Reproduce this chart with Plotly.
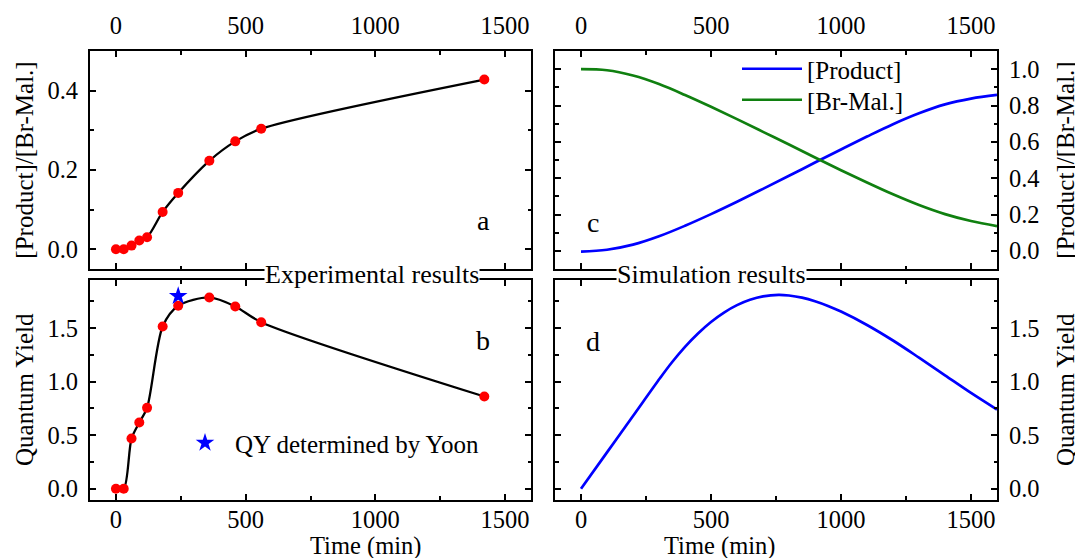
import plotly.graph_objects as go

# ---------------- data ----------------
# Experimental results (panels a and b)
exp_time = [0, 30, 60, 90, 120, 180, 240, 360, 460, 560, 1420]
exp_ratio = [0.0, 0.0, 0.009, 0.022, 0.030, 0.094, 0.142, 0.223, 0.272, 0.304, 0.428]
exp_qy = [0.0, 0.0, 0.469, 0.619, 0.756, 1.516, 1.709, 1.787, 1.703, 1.556, 0.862]
yoon_time = [240]
yoon_qy = [1.80]

# Simulation results (panel c)
sim_time = [0, 100, 200, 300, 400, 500, 600, 700, 800, 900, 1000, 1100, 1200, 1300, 1400, 1500, 1600]
sim_product = [-0.004, 0.006, 0.034, 0.080, 0.138, 0.202, 0.270, 0.341, 0.413, 0.486, 0.558, 0.629, 0.697,
               0.757, 0.806, 0.838, 0.858]
sim_brmal = [1.0, 0.994, 0.965, 0.918, 0.858, 0.793, 0.725, 0.655, 0.585, 0.514, 0.444, 0.376, 0.311,
             0.252, 0.202, 0.164, 0.136]

# Simulation results (panel d)
qy_time = [0, 100, 200, 305, 350, 400, 450, 500, 550, 600, 650, 700, 760, 800, 850,
           900, 950, 1000, 1100, 1200, 1300, 1400, 1500, 1600]
sim_qy = [0.0, 0.34, 0.68, 1.037, 1.182, 1.326, 1.451, 1.558, 1.646, 1.715, 1.765, 1.797, 1.811,
          1.805, 1.785, 1.752, 1.708, 1.655, 1.53, 1.385, 1.225, 1.06, 0.895, 0.74]

x_ticks = [0, 500, 1000, 1500]

# ---------------- figure ----------------
FONT = "Liberation Serif"
OFF = 8                     # the page body adds an 8 px margin around the figure
W, H = 1083 - OFF, 558 - OFF


def px(x):
    """screen x (px) -> paper x"""
    return (x - OFF) / W


def py(y):
    """screen y (px) -> paper y"""
    return 1 - (y - OFF) / H


fig = go.Figure()

fig.add_trace(go.Scatter(
    x=exp_time, y=exp_ratio, mode="lines+markers",
    line=dict(color="black", width=2.3, shape="spline", smoothing=0.8),
    marker=dict(color="red", size=10, line=dict(width=0)),
    xaxis="x", yaxis="y", showlegend=False))

fig.add_trace(go.Scatter(
    x=exp_time, y=exp_qy, mode="lines+markers",
    line=dict(color="black", width=2.3, shape="spline", smoothing=0.8),
    marker=dict(color="red", size=10, line=dict(width=0)),
    xaxis="x2", yaxis="y2", showlegend=False))

fig.add_trace(go.Scatter(
    x=yoon_time, y=yoon_qy, mode="markers", name="QY determined by Yoon",
    marker=dict(symbol="star", color="blue", size=14, line=dict(width=0)),
    xaxis="x2", yaxis="y2", legend="legend"))

fig.add_trace(go.Scatter(
    x=sim_time, y=sim_product, mode="lines", name="[Product]",
    line=dict(color="blue", width=2.7, shape="spline"),
    xaxis="x3", yaxis="y3", legend="legend2"))

fig.add_trace(go.Scatter(
    x=sim_time, y=sim_brmal, mode="lines", name="[Br-Mal.]",
    line=dict(color="#108010", width=2.7, shape="spline"),
    xaxis="x3", yaxis="y3", legend="legend3"))

fig.add_trace(go.Scatter(
    x=qy_time, y=sim_qy, mode="lines",
    line=dict(color="blue", width=2.7, shape="spline"),
    xaxis="x4", yaxis="y4", showlegend=False))

tickfont = dict(family=FONT, size=24.5, color="black")
titlefont = dict(family=FONT, size=25, color="black")

common = dict(
    showline=True, linecolor="black", linewidth=2, mirror="allticks",
    ticks="inside", ticklen=6, tickwidth=2, tickcolor="black",
    showgrid=False, zeroline=False, tickfont=tickfont,
    minor=dict(ticks="inside", ticklen=3.5, tickwidth=1.5, tickcolor="black", showgrid=False),
    automargin=False,
)

xdom_l = [px(90), px(531)]
xdom_r = [px(555), px(997)]
ydom_t = [py(269), py(51)]
ydom_b = [py(499.5), py(280)]


def xaxis(dom, anchor, side):
    d = dict(common)
    d.update(domain=dom, anchor=anchor, side=side, range=[-100, 1600],
             tickmode="array", tickvals=x_ticks, ticktext=[str(v) for v in x_ticks],
             ticklabelstandoff=5 if side == "top" else -3)
    d["minor"] = dict(common["minor"], tickmode="linear", tick0=0, dtick=250)
    return d


def yaxis(dom, anchor, side, rng, dtick, mdtick, title):
    d = dict(common)
    d.update(domain=dom, anchor=anchor, side=side, range=rng,
             tickmode="linear", tick0=0, dtick=dtick, tickformat=".1f",
             ticklabelstandoff=5,
             title=dict(text=title, font=titlefont, standoff=7 if side == "left" else 18))
    d["minor"] = dict(common["minor"], tickmode="linear", tick0=0, dtick=mdtick)
    return d


legend_font = dict(family=FONT, size=25, color="black")
ann_font = dict(family=FONT, size=26, color="black")
letter_font = dict(family=FONT, size=28, color="black")
xtitle_font = dict(family=FONT, size=24.5, color="black")

fig.update_layout(
    width=W, height=H,
    margin=dict(l=0, r=0, t=0, b=0),
    paper_bgcolor="white", plot_bgcolor="white",
    font=dict(family=FONT, size=24, color="black"),
    xaxis=xaxis(xdom_l, "y", "top"),
    yaxis=yaxis(ydom_t, "x", "left", [-0.05, 0.5], 0.2, 0.1, "[Product]/[Br-Mal.]"),
    xaxis2=xaxis(xdom_l, "y2", "bottom"),
    yaxis2=yaxis(ydom_b, "x2", "left", [-0.1, 1.95], 0.5, 0.25, "Quantum Yield"),
    xaxis3=xaxis(xdom_r, "y3", "top"),
    yaxis3=yaxis(ydom_t, "x3", "right", [-0.1, 1.1], 0.2, 0.1, "[Product]/[Br-Mal.]"),
    xaxis4=xaxis(xdom_r, "y4", "bottom"),
    yaxis4=yaxis(ydom_b, "x4", "right", [-0.1, 1.95], 0.5, 0.25, "Quantum Yield"),
    legend=dict(x=px(175), y=py(443), xanchor="left", yanchor="middle", itemwidth=50,
                bgcolor="rgba(0,0,0,0)", font=legend_font),
    legend2=dict(x=px(737), y=py(69), xanchor="left", yanchor="middle", itemwidth=60,
                 bgcolor="rgba(0,0,0,0)", font=legend_font),
    legend3=dict(x=px(737), y=py(100), xanchor="left", yanchor="middle", itemwidth=60,
                 bgcolor="rgba(0,0,0,0)", font=legend_font),
    annotations=[
        dict(text="Experimental results", x=px(372), y=py(274), xref="paper", yref="paper",
             showarrow=False, bgcolor="white", borderpad=0, font=ann_font),
        dict(text="Simulation results", x=px(711), y=py(274), xref="paper", yref="paper",
             showarrow=False, bgcolor="white", borderpad=0, font=ann_font),
        dict(text="Time (min)", x=px(309), y=py(545.5), xref="paper", yref="paper", yanchor="middle",
             showarrow=False, borderpad=0, font=xtitle_font),
        dict(text="Time (min)", x=px(776), y=py(545.5), xref="paper", yref="paper", yanchor="middle",
             showarrow=False, borderpad=0, font=xtitle_font),
        dict(text="a", x=px(483), y=py(221), xref="paper", yref="paper", showarrow=False,
             font=letter_font),
        dict(text="b", x=px(483), y=py(340), xref="paper", yref="paper", showarrow=False,
             font=letter_font),
        dict(text="c", x=px(593), y=py(222), xref="paper", yref="paper", showarrow=False,
             font=letter_font),
        dict(text="d", x=px(593), y=py(341), xref="paper", yref="paper", showarrow=False,
             font=letter_font),
    ],
)

fig.write_html("out.html")
